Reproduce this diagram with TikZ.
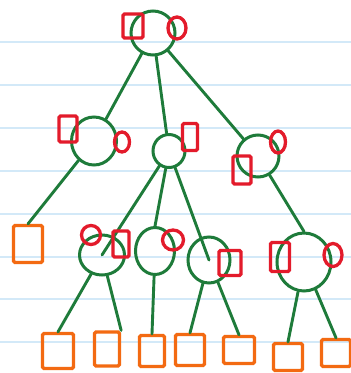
\documentclass[tikz,border=0pt]{standalone}
\usetikzlibrary{shapes.geometric}
\definecolor{tgreen}{HTML}{1E7B3A}
\definecolor{tred}{HTML}{E31B2B}
\definecolor{torange}{HTML}{F36A12}
\definecolor{paperline}{HTML}{D3E9F8}
\begin{document}
\begin{tikzpicture}[x=1pt,y=-1pt,
  gnode/.style={ellipse, draw=tgreen, line width=3pt, inner sep=0pt},
  rsq/.style={rectangle, draw=tred, line width=3.3pt, inner sep=0pt, rounded corners=1.5pt},
  rcirc/.style={ellipse, draw=tred, line width=3.3pt, inner sep=0pt},
  leaf/.style={rectangle, draw=torange, line width=3.3pt, inner sep=0pt, rounded corners=1.5pt},
  edge/.style={draw=tgreen, line width=2.9pt, line cap=round},
  paper/.style={draw=paperline, line width=1.2pt}]
\fill[white] (0,0) rectangle (351,373);
\useasboundingbox (0,0) rectangle (351,373);
\foreach \yy in {42,85,128,171,214,257,299,342} {\draw[paper] (0,\yy) -- (351,\yy);}
% green nodes
\node[gnode, minimum width=44pt, minimum height=44pt] (root) at (153,33) {};
\node[gnode, minimum width=45pt, minimum height=48pt] (A) at (94,141) {};
\node[gnode, minimum width=32pt, minimum height=33pt] (B) at (169,151) {};
\node[gnode, minimum width=42pt, minimum height=42pt] (C) at (258,156) {};
\node[gnode, minimum width=45pt, minimum height=40pt] (D) at (102,255) {};
\node[gnode, minimum width=39pt, minimum height=47pt] (E) at (155,251) {};
\node[gnode, minimum width=42pt, minimum height=46pt] (F) at (209,260) {};
\node[gnode, minimum width=54pt, minimum height=58pt] (G) at (304,262) {};
% leaves
\node[leaf, minimum width=29pt, minimum height=37pt] (L0) at (28,244) {};
\node[leaf, minimum width=31pt, minimum height=35pt] (L1) at (58,351) {};
\node[leaf, minimum width=25pt, minimum height=34pt] (L2) at (107,349) {};
\node[leaf, minimum width=25pt, minimum height=31pt] (L3) at (152,351) {};
\node[leaf, minimum width=29pt, minimum height=31pt] (L4) at (190,350) {};
\node[leaf, minimum width=31pt, minimum height=27pt] (L5) at (239,350) {};
\node[leaf, minimum width=29pt, minimum height=27pt] (L6) at (288,357) {};
\node[leaf, minimum width=29pt, minimum height=27pt] (L7) at (336,353) {};
% edges
\draw[edge] (root) -- (A);
\draw[edge] (root) -- (B);
\draw[edge] (root) -- (C);
\draw[edge] (A) -- (L0.north);
\draw[edge] (B) -- (D.center);
\draw[edge] (B) -- (E.north);
\draw[edge] (B) -- (F.center);
\draw[edge] (C) -- (G.north);
\draw[edge] (D) -- (L1.north);
\draw[edge] (D) -- (L2.north east);
\draw[edge] (E) -- (L3.north);
\draw[edge] (F) -- (L4.north);
\draw[edge] (F) -- (L5.north);
\draw[edge] (G) -- (L6.north);
\draw[edge] (G) -- (L7.north);
% red markers
\node[rsq, minimum width=20pt, minimum height=24pt] (rootS) at (133,26) {};
\node[rcirc, minimum width=18pt, minimum height=22pt] (rootC) at (177,28) {};
\node[rsq, minimum width=18pt, minimum height=26pt] (AS) at (68,129) {};
\node[rcirc, minimum width=15pt, minimum height=20pt] (AC) at (122,142) {};
\node[rsq, minimum width=15pt, minimum height=27pt] (BS) at (190,137) {};
\node[rcirc, minimum width=15pt, minimum height=22pt] (CC) at (278,142) {};
\node[rsq, minimum width=18pt, minimum height=28pt] (CS) at (242,170) {};
\node[rcirc, minimum width=19pt, minimum height=19pt] (DC) at (91,235) {};
\node[rsq, minimum width=16pt, minimum height=26pt] (DS) at (121,244) {};
\node[rcirc, minimum width=21pt, minimum height=20pt] (EC) at (173,240) {};
\node[rsq, minimum width=22pt, minimum height=25pt] (FS) at (230,263) {};
\node[rsq, minimum width=19pt, minimum height=29pt] (GS) at (280,257) {};
\node[rcirc, minimum width=18pt, minimum height=23pt] (GC) at (333,255) {};
\end{tikzpicture}
\end{document}
